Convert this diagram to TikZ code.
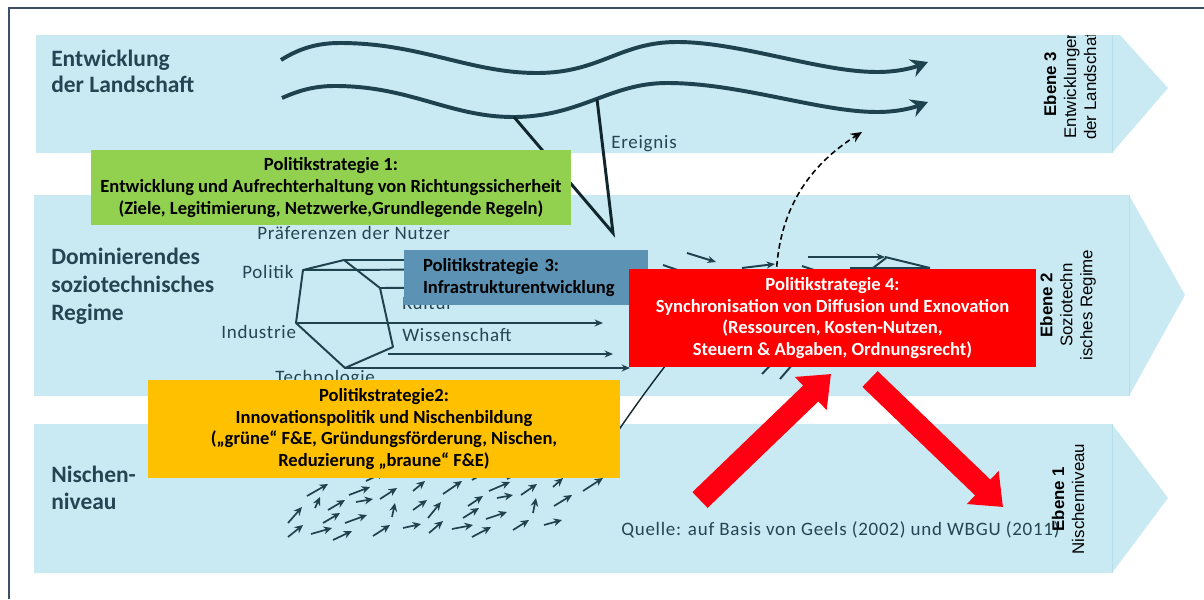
\documentclass[tikz,border=0pt]{standalone}
\usepackage{fontspec}
\setmainfont{Carlito}
\newfontfamily\arialfont{Liberation Sans}
\usetikzlibrary{arrows.meta}

\definecolor{geelsband}{rgb}{0.788,0.918,0.953}
\definecolor{geelsbandedge}{rgb}{0.72,0.87,0.92}
\definecolor{geelsframe}{rgb}{0.23,0.31,0.40}
\definecolor{geelsline}{rgb}{0.12,0.26,0.31}
\definecolor{geelsdark}{rgb}{0.07,0.15,0.18}
\definecolor{geelstext}{rgb}{0.15,0.27,0.33}
\definecolor{geelsstrat1}{rgb}{0.573,0.816,0.314}
\definecolor{geelsstrat2}{rgb}{1.0,0.753,0.0}
\definecolor{geelsstrat3}{rgb}{0.361,0.573,0.706}
\definecolor{geelsstrat4}{rgb}{1.0,0.0,0.0}
\definecolor{geelsarrow}{rgb}{1.0,0.0,0.075}

\begin{document}
\begin{tikzpicture}[x=0.25mm,y=-0.25mm,
  bandlabel/.style={anchor=base west,align=left,inner sep=0pt,text=geelstext},
  netlabel/.style={anchor=base west,inner sep=0pt,text=geelstext,font=\fontsize{13.5}{16}\selectfont\addfontfeature{LetterSpace=4}},
  levellabel/.style={rotate=90,align=center,inner sep=0pt,font=\arialfont\fontsize{12}{14.2}\selectfont},
  stratbox/.style={inner sep=0pt,align=center,font=\fontsize{13.2}{15.5}\selectfont\bfseries},
  netline/.style={geelsline,line width=1.4pt},
  netarrow/.style={netline,-{Stealth[length=6pt,width=5pt]}},
  nichearrow/.style={geelsline,line width=1.2pt,-{Stealth[length=6pt,width=5.5pt]}},
  landarrow/.style={geelsline,line width=2.8pt,-{Stealth[length=12pt,width=13pt]}},
  bigarrow/.style={geelsarrow,line width=15.6pt,-{Triangle[length=20pt,width=31.3pt]}}]
\useasboundingbox (0,0) rectangle (1204,599);
\draw[geelsframe,line width=1.6pt] (9,599) -- (9,8) -- (1204,8);
\fill[geelsband] (36,35) -- (1120,35) -- (1168,88) -- (1112,153) -- (36,153) -- cycle;
\fill[geelsband] (34,195) -- (1129,195) -- (1185,295) -- (1129,396) -- (34,396) -- cycle;
\fill[geelsband] (34,424) -- (1112,424) -- (1168,498) -- (1112,573) -- (34,573) -- cycle;
\draw[geelsbandedge,line width=0.4pt] (1112,35) -- (1112,153);
\draw[geelsbandedge,line width=0.4pt] (1129,195) -- (1129,396);
\draw[geelsbandedge,line width=0.4pt] (1112,424) -- (1112,573);
\node[bandlabel,font=\fontsize{16.7}{17.8}\selectfont\bfseries] (landscape) at (51,92) {Entwicklung\\der Landschaft};
\node[bandlabel,font=\fontsize{16.7}{19.6}\selectfont\bfseries] (regime) at (51,320) {Dominierendes\\soziotechnisches\\Regime};
\node[bandlabel,font=\fontsize{16.7}{19.2}\selectfont\bfseries] (niche) at (51,509) {Nischen-\\niveau};
\draw[landarrow] (281,60) .. controls (300,48) and (318,43) .. (340,43)
  .. controls (420,43) and (470,73) .. (537,73)
  .. controls (600,73) and (620,42) .. (677,42)
  .. controls (740,42) and (820,72) .. (877,72)
  .. controls (900,72) and (915,67) .. (928,62);
\draw[landarrow] (282,98) .. controls (300,90) and (315,86) .. (335,86)
  .. controls (410,86) and (450,117) .. (513,117)
  .. controls (580,117) and (610,83) .. (667,83)
  .. controls (740,83) and (820,112) .. (877,112)
  .. controls (900,112) and (915,107) .. (928,102);
\coordinate (eventa) at (514,117);
\coordinate (eventb) at (597,99);
\coordinate (eventtip) at (613,233);
\draw[geelsdark,line width=2.1pt] (eventa) -- (eventtip) -- (eventb);
\node[netlabel] (event) at (611,148) {Ereignis};
\coordinate (netpol) at (303,270);
\coordinate (nettop) at (344,260);
\coordinate (netrgt) at (380,288);
\coordinate (netlrt) at (393,347);
\coordinate (nettec) at (345,368);
\coordinate (netind) at (296,323);
\coordinate (tippol) at (625,269);
\coordinate (tiptop) at (625,260);
\coordinate (tiprgt) at (625,287);
\coordinate (tipind) at (603,323);
\coordinate (sciend) at (388,354);
\coordinate (tipsci) at (613,354);
\coordinate (tiptec) at (630,368);
\draw[netline,line join=round] (netpol) -- (nettop) -- (netrgt) -- (netlrt) -- (nettec) -- (netind) -- cycle;
\draw[netarrow] (nettop) -- (tiptop);
\draw[netarrow] (netpol) -- (tippol);
\draw[netarrow] (netrgt) -- (tiprgt);
\draw[netarrow] (netind) -- (tipind);
\draw[netarrow] (sciend) -- (tipsci);
\draw[netarrow] (nettec) -- (tiptec);
\node[netlabel] (users) at (257,239) {Präferenzen der Nutzer};
\node[netlabel] (politics) at (242,278) {Politik};
\node[netlabel] (industry) at (221,338) {Industrie};
\node[netlabel] (technology) at (275,383) {Technologie};
\node[netlabel] (culture) at (402,309) {Kultur};
\node[netlabel] (science) at (402,341) {Wissenschaft};
\draw[netarrow] (687,253) -- (716,262);
\draw[netarrow] (663,265) -- (692,275);
\draw[netarrow] (742,268) -- (775,264);
\draw[netarrow] (808,257) -- (885,257);
\draw[netline] (885,257) -- (930,268);
\draw[netline] (850,268) -- (930,268);
\draw[netline] (873,268) -- (886,258);
\draw[netline] (802,266) -- (820,272);
\draw[netline] (762,374) -- (780,355);
\draw[netline] (780,379) -- (798,358);
\draw[nichearrow] (307,496) -- (328,484);
\draw[nichearrow] (315,508) -- (320,497);
\draw[nichearrow] (288,523) -- (302,507);
\draw[nichearrow] (288,537) -- (303,525);
\draw[nichearrow] (311,534) -- (332,528);
\draw[nichearrow] (323,523) -- (340,513);
\draw[nichearrow] (328,510) -- (345,500);
\draw[nichearrow] (333,540) -- (352,531);
\draw[nichearrow] (345,523) -- (367,515);
\draw[nichearrow] (349,495) -- (370,487);
\draw[nichearrow] (356,502) -- (373,499);
\draw[nichearrow] (373,536) -- (390,525);
\draw[nichearrow] (380,499) -- (397,488);
\draw[nichearrow] (392,517) -- (395,503);
\draw[nichearrow] (366,481) -- (385,472);
\draw[nichearrow] (413,491) -- (425,481);
\draw[nichearrow] (443,494) -- (462,481);
\draw[nichearrow] (413,510) -- (427,500);
\draw[nichearrow] (428,518) -- (441,502);
\draw[nichearrow] (403,528) -- (421,524);
\draw[nichearrow] (429,533) -- (443,521);
\draw[nichearrow] (452,529) -- (473,525);
\draw[nichearrow] (463,518) -- (479,508);
\draw[nichearrow] (468,506) -- (483,496);
\draw[nichearrow] (472,537) -- (491,527);
\draw[nichearrow] (486,519) -- (507,512);
\draw[nichearrow] (489,491) -- (510,482);
\draw[nichearrow] (497,498) -- (513,495);
\draw[nichearrow] (513,530) -- (529,520);
\draw[nichearrow] (521,495) -- (537,484);
\draw[nichearrow] (533,513) -- (536,498);
\draw[nichearrow] (544,525) -- (562,520);
\draw[nichearrow] (554,506) -- (572,495);
\draw[nichearrow] (553,487) -- (563,478);
\draw[nichearrow] (583,491) -- (603,478);
\draw[nichearrow] (472,480) -- (490,470);
\draw[nichearrow] (507,479) -- (525,470);
\coordinate (breakfoot) at (600,458);
\coordinate (breakhead) at (672,357);
\draw[geelsdark,line width=1pt] (breakfoot) .. controls (625,420) and (645,392) .. (breakhead);
\coordinate (shockfoot) at (776,285);
\coordinate (shockhead) at (862,132);
\draw[black,line width=1.1pt,dash pattern=on 4pt off 2.5pt,-{Stealth[length=8pt,width=7pt]}] (shockfoot) .. controls (776,210) and (810,165) .. (shockhead);
\node[stratbox,fill=geelsstrat1,minimum width=120mm,minimum height=18.75mm] (strat1) at (331,187.5) {Politikstrategie 1:\\Entwicklung und Aufrechterhaltung von Richtungssicherheit\\(Ziele, Legitimierung, Netzwerke,Grundlegende Regeln)};
\node[stratbox,fill=geelsstrat3,minimum width=61mm,minimum height=13.75mm,text width=51.5mm,inner xsep=4.75mm,align=left] (strat3) at (526,277.5) {Politikstrategie 3:\\Infrastrukturentwicklung};
\node[stratbox,fill=geelsstrat2,minimum width=118mm,minimum height=24.5mm] (strat2) at (384,429) {Politikstrategie2:\\Innovationspolitik und Nischenbildung\\(„grüne“ F\&E, Gründungsförderung, Nischen,\\Reduzierung „braune“ F\&E)};
\node[stratbox,fill=geelsstrat4,text=white,minimum width=101.75mm,minimum height=24.5mm] (strat4) at (832.5,318) {Politikstrategie 4:\\Synchronisation von Diffusion und Exnovation\\(Ressourcen, Kosten-Nutzen,\\Steuern \& Abgaben, Ordnungsrecht)};
\coordinate (upfoot) at (700,500);
\coordinate (uphead) at (831,374);
\coordinate (downfoot) at (870,379);
\coordinate (downhead) at (1003,507);
\draw[bigarrow] (upfoot) -- (uphead);
\draw[bigarrow] (downfoot) -- (downhead);
\node[netlabel] (source) at (621,535) {Quelle: auf Basis von Geels (2002) und WBGU (2011)};
\begin{scope}
\clip (990,35) rectangle (1180,160);
\node[levellabel] (level3) at (1070,84) {\textbf{Ebene 3}\\Entwicklungen\\der Landschaft};
\end{scope}
\node[levellabel] (level2) at (1068,305) {\textbf{Ebene 2}\\Soziotechn\\isches Regime};
\node[levellabel] (level1) at (1068,499) {\textbf{Ebene 1}\\Nischenniveau};
\end{tikzpicture}
\end{document}
